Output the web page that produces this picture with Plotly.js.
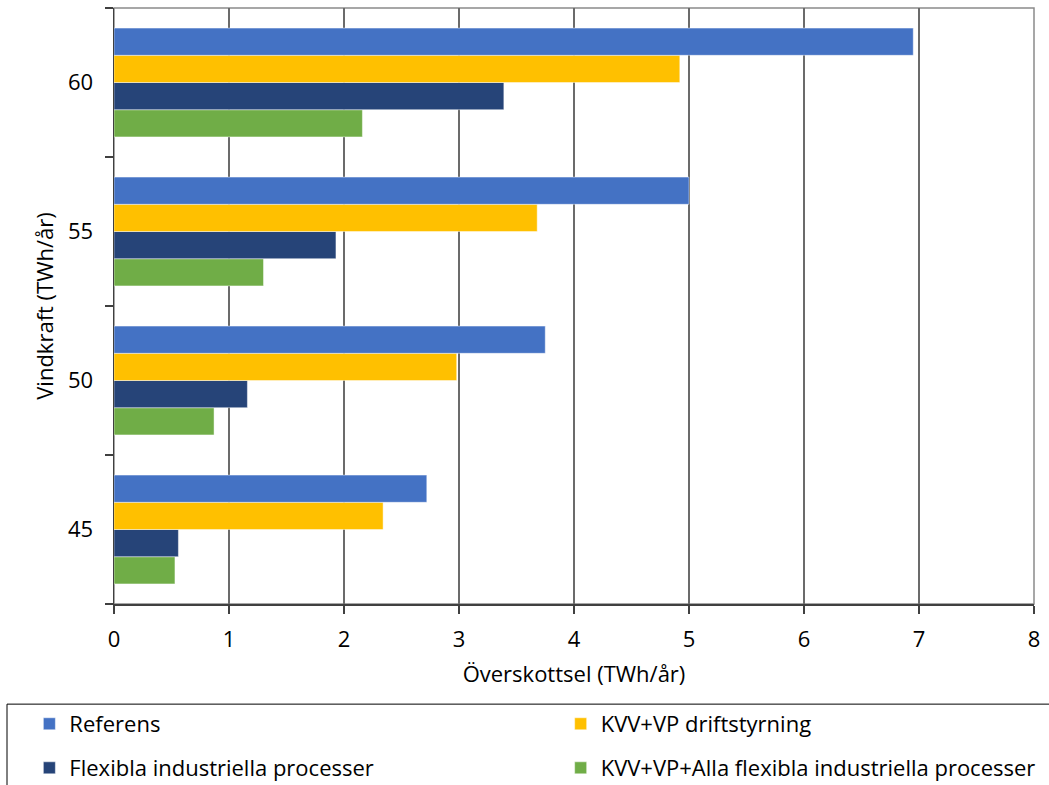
<!DOCTYPE html>
<html>
<head>
<meta charset="utf-8">
<script src="https://cdn.plot.ly/plotly-3.0.1.min.js"></script>
<style>html,body{margin:0;padding:0;background:#fff;}#chart{width:1049px;height:785px;}</style>
</head>
<body>
<div id="chart"></div>
<script>
const categories = ['45', '50', '55', '60'];
const seriesNames = ['Referens', 'KVV+VP driftstyrning', 'Flexibla industriella processer', 'KVV+VP+Alla flexibla industriella processer'];
const referens = [2.72, 3.75, 5.00, 6.95];
const kvvDrift = [2.34, 2.98, 3.68, 4.92];
const flexibla = [0.56, 1.16, 1.93, 3.39];
const kvvAlla = [0.53, 0.87, 1.30, 2.16];
const xTicks = [0, 1, 2, 3, 4, 5, 6, 7, 8];
const colors = ['#4472C4', '#FFC000', '#264478', '#70AD47'];

const FONT = 'Open Sans, sans-serif';
const FS = 22;

function bar(name, vals, color, legend) {
  return {
    type: 'bar', orientation: 'h', name: name, x: vals, y: categories,
    marker: {color: color, line: {color: 'rgba(255,255,255,0.45)', width: 1}},
    legend: legend, hoverinfo: 'x+name'
  };
}

// first trace is drawn at the bottom of each group
const data = [
  bar(seriesNames[3], kvvAlla, colors[3], 'legend4'),
  bar(seriesNames[2], flexibla, colors[2], 'legend3'),
  bar(seriesNames[1], kvvDrift, colors[1], 'legend2'),
  bar(seriesNames[0], referens, colors[0], 'legend')
];

function leg(x, y) {
  return {
    orientation: 'v', xanchor: 'left', yanchor: 'middle', x: x, y: y,
    font: {family: FONT, size: FS, color: '#000'},
    bgcolor: 'rgba(0,0,0,0)', borderwidth: 0
  };
}

const layout = {
  width: 1049, height: 785,
  margin: {l: 114, r: 15, t: 8, b: 181, autoexpand: false},
  paper_bgcolor: '#fff', plot_bgcolor: '#fff',
  font: {family: FONT, size: FS, color: '#000'},
  barmode: 'group', bargap: 0.27, bargroupgap: 0,
  showlegend: true,
  legend: leg(-0.092, -0.2013),
  legend2: leg(0.4855, -0.2013),
  legend3: leg(-0.092, -0.2752),
  legend4: leg(0.4855, -0.2752),
  xaxis: {
    range: [0, 8], tickvals: xTicks, ticktext: xTicks.map(String),
    showgrid: true, gridcolor: '#6b6b6b', gridwidth: 1.5,
    zeroline: false, showline: true, linecolor: '#404040', linewidth: 1.5,
    ticks: 'outside', ticklen: 8, tickcolor: '#404040', tickwidth: 1.5,
    ticklabelstandoff: 7,
    tickfont: {family: FONT, size: FS, color: '#000'},
    title: {text: 'Överskottsel (TWh/år)', font: {family: FONT, size: FS, color: '#000'}, standoff: 14},
    fixedrange: true
  },
  yaxis: {
    type: 'category', categoryorder: 'array', categoryarray: categories,
    showgrid: false, zeroline: false, showline: true, linecolor: '#404040', linewidth: 1.5,
    ticks: 'outside', tickson: 'boundaries', ticklen: 8, tickcolor: '#404040', tickwidth: 1.5,
    ticklabelstandoff: 15,
    tickfont: {family: FONT, size: FS, color: '#000'},
    title: {text: 'Vindkraft (TWh/år)', font: {family: FONT, size: FS, color: '#000'}, standoff: 8},
    fixedrange: true
  },
  shapes: [
    {type: 'rect', xref: 'paper', yref: 'paper', x0: 0, x1: 1, y0: 0, y1: 1,
     line: {color: '#8a8a8a', width: 1.5}, layer: 'below'},
    {type: 'rect', xref: 'paper', yref: 'paper', x0: -0.1163, x1: 1.03, y0: -0.168, y1: -0.32,
     line: {color: '#000', width: 1}, fillcolor: 'rgba(0,0,0,0)', layer: 'above'}
  ]
};

Plotly.newPlot('chart', data, layout, {displayModeBar: false, staticPlot: true});
</script>
</body>
</html>
